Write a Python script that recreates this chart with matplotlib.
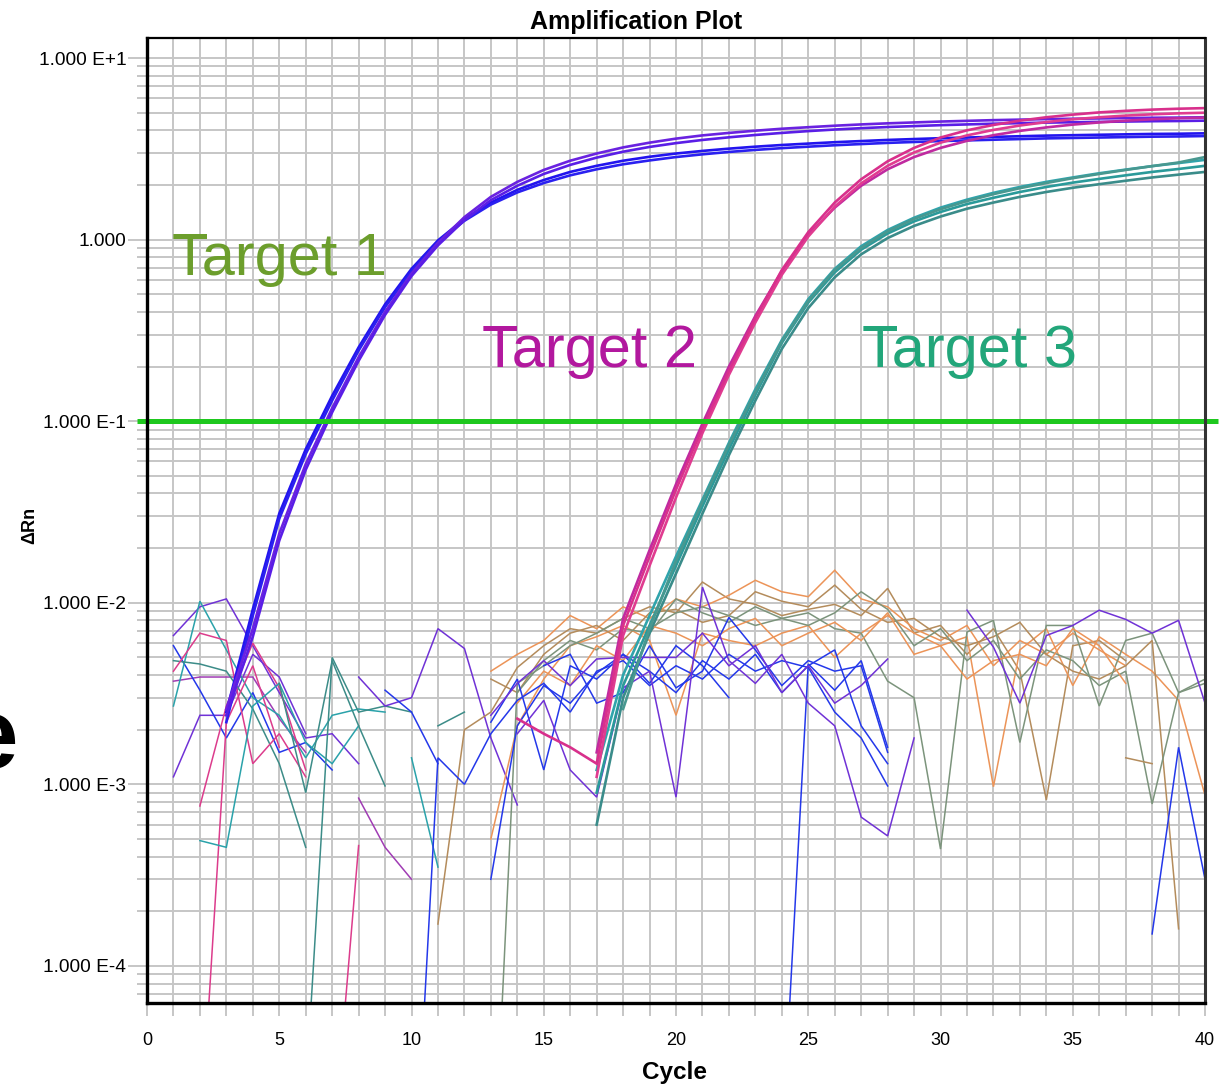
import matplotlib
matplotlib.use("Agg")
import matplotlib.pyplot as plt
from matplotlib.ticker import FixedLocator, FuncFormatter, LogLocator, NullFormatter

nan = float("nan")

# ---- amplification curves (delta Rn per cycle) ----
# Target 1, cycles 3..40
t1_a = [0.0026, 0.0072, 0.024, 0.058, 0.118, 0.225, 0.40, 0.65, 0.96, 1.33, 1.72, 2.08, 2.42,
        2.72, 2.98, 3.22, 3.42, 3.6, 3.75, 3.87, 3.98, 4.08, 4.16, 4.24, 4.31, 4.37, 4.42, 4.47,
        4.51, 4.55, 4.58, 4.61, 4.63, 4.65, 4.67, 4.69, 4.7, 4.72]
t1_b = [0.0024, 0.0065, 0.022, 0.054, 0.112, 0.215, 0.385, 0.63, 0.93, 1.28, 1.65, 1.98, 2.3,
        2.58, 2.83, 3.05, 3.24, 3.4, 3.54, 3.66, 3.77, 3.87, 3.96, 4.04, 4.11, 4.17, 4.22, 4.27,
        4.31, 4.35, 4.38, 4.41, 4.43, 4.45, 4.47, 4.49, 4.5, 4.52]
t1_c = [0.0025, 0.0092, 0.031, 0.07, 0.138, 0.255, 0.44, 0.69, 0.99, 1.3, 1.6, 1.88, 2.13,
        2.36, 2.55, 2.72, 2.86, 2.98, 3.08, 3.17, 3.25, 3.32, 3.38, 3.44, 3.49, 3.54, 3.58, 3.62,
        3.65, 3.68, 3.71, 3.74, 3.76, 3.78, 3.8, 3.82, 3.83, 3.85]
t1_d = [0.0022, 0.0085, 0.029, 0.066, 0.13, 0.245, 0.425, 0.67, 0.97, 1.27, 1.56, 1.82, 2.05,
        2.26, 2.44, 2.6, 2.73, 2.85, 2.95, 3.04, 3.12, 3.19, 3.25, 3.31, 3.36, 3.41, 3.45, 3.49,
        3.52, 3.55, 3.58, 3.61, 3.63, 3.65, 3.67, 3.69, 3.7, 3.72]

# Target 2, cycles 14..40 (a) and 17..40 (b, c)
t2_a = [0.0023, 0.0019, 0.0016, 0.0013, 0.0075, 0.018, 0.042, 0.092, 0.19, 0.37, 0.68, 1.1,
        1.6, 2.15, 2.7, 3.2, 3.65, 4.0, 4.28, 4.52, 4.72, 4.88, 5.02, 5.12, 5.2, 5.26, 5.3]
t2_b = [0.0011, 0.0066, 0.016, 0.038, 0.086, 0.18, 0.35, 0.64, 1.04, 1.52, 2.04, 2.55, 3.02,
        3.42, 3.75, 4.02, 4.25, 4.44, 4.6, 4.72, 4.82, 4.9, 4.96, 5.0]
t2_c = [0.0015, 0.0082, 0.0195, 0.045, 0.097, 0.2, 0.38, 0.67, 1.06, 1.5, 1.98, 2.44, 2.85,
        3.2, 3.5, 3.76, 3.97, 4.15, 4.3, 4.42, 4.52, 4.6, 4.66, 4.7]

# Target 3, cycles 17..40 (a, b, c) and 18..40 (d)
t3_a = [0.0009, 0.0035, 0.0075, 0.016, 0.034, 0.07, 0.14, 0.27, 0.45, 0.66, 0.88, 1.08, 1.26,
        1.42, 1.57, 1.7, 1.83, 1.95, 2.06, 2.16, 2.26, 2.36, 2.45, 2.55]
t3_b = [0.0012, 0.004, 0.0085, 0.018, 0.037, 0.076, 0.15, 0.28, 0.47, 0.69, 0.92, 1.13, 1.32,
        1.5, 1.66, 1.81, 1.95, 2.08, 2.2, 2.32, 2.43, 2.54, 2.64, 2.75]
t3_c = [0.0006, 0.003, 0.0068, 0.0145, 0.031, 0.065, 0.13, 0.25, 0.42, 0.62, 0.83, 1.02, 1.19,
        1.34, 1.48, 1.6, 1.72, 1.83, 1.93, 2.02, 2.11, 2.2, 2.28, 2.36]
t3_d = [0.0026, 0.0072, 0.017, 0.036, 0.074, 0.145, 0.275, 0.46, 0.68, 0.9, 1.11, 1.3, 1.47,
        1.63, 1.78, 1.92, 2.05, 2.18, 2.3, 2.42, 2.54, 2.66, 2.85]

# ---- baseline / no-template noise traces ----
n01 = [0.0066, 0.0095, 0.0105, 0.0058, 0.0032, 0.0018, 0.0019, 0.0013]
n02 = [0.0011, 0.0024, 0.0024, 0.0052, 0.0039, 0.0019]
n03 = [0.0037, 0.0039, 0.0039, 0.0039, 0.0023, 0.0015]
n04 = [0.0058, 0.0033, 0.0018, 0.0032, 0.0015, 0.0017, 0.0012]
n05 = [0.0027, 0.0102, 0.0055, 0.003, 0.0024, 0.0014, 0.0024, 0.0026, 0.0025]
n06 = [0.0048, 0.0046, 0.0042, 0.0026, 0.0013, 0.00045]
n07 = [0.0042, 0.0068, 0.0062, 0.0013, 0.0019, 0.0011]
n08 = [0.00076, 0.0027, 0.006, 0.0034, 0.0012]
n09 = [0.00001, 0.0022, 0.0045, 0.0016]
n10 = [0.00049, 0.00045, 0.0027, 0.0036, 0.0017, 0.0013, 0.0021]
n11 = [0.00002, 0.005, 0.0025, 0.0027, 0.0025]
n12 = [0.0036, 0.0009, 0.0048, 0.0021, 0.00098]
n13 = [0.0000085, 0.00046]
n14 = [0.00084, 0.00045, 0.0003]
n15 = [0.0039, 0.0027, 0.003, 0.0072, 0.0056, 0.0018, 0.00077]
n16 = [0.0014, 0.00035]
n17 = [0.0021, 0.0025]
n19 = [0.0033, 0.0025, 0.0013]

blue_1 = [0.000003, 0.0014, 0.001, 0.0019, 0.0029, 0.0036, 0.0025, 0.0042, 0.0048, 0.0035,
          0.0045, 0.0038, 0.0052, 0.0042, 0.0048, 0.0044, 0.0025, 0.0018, 0.00098]
blue_2 = [0.0022, 0.0038, 0.0012, 0.0045, 0.0038, 0.0052, 0.0042, 0.0032, 0.0048, 0.0038,
          0.0052, 0.0032, 0.0045, 0.0055, 0.0021, 0.0013]
blue_3 = [0.00001, 0.0046, 0.0033, 0.0048, 0.0016]
blue_4 = [0.0045, 0.0052, 0.0028, 0.0032, 0.0058, 0.0034, 0.0042, 0.0083, 0.0055, 0.0035,
          0.0048, 0.0042, 0.0045, 0.0015]
blue_5 = [0.0003, 0.0021, 0.0035, 0.0028, 0.0041, 0.0052, 0.0036, 0.0058, 0.0045, 0.003]
blue_6 = [0.00015, 0.0016, 0.0003]

purple_1 = [0.0024, 0.0036, 0.0048, 0.0035, 0.0049, 0.005, 0.005, 0.005, 0.0068, 0.0045,
            0.0058, 0.0032, 0.0045, 0.0028, 0.0035, 0.0049]
purple_2 = [0.0019, 0.0029, 0.0012, 0.00085, 0.0034, 0.0042, 0.00085, 0.0122, 0.0048, 0.0036,
            0.0052, 0.0028, 0.0021, 0.00066, 0.00052, 0.0018]
purple_3 = [0.0091, 0.0057, 0.0028, 0.0066, 0.0075, 0.0091, 0.0081, 0.0068, 0.008, 0.0028]

orange_a = [0.0042, 0.0052, 0.0062, 0.0085, 0.0072, 0.0095, 0.0082, 0.0105, 0.0095, 0.011,
            0.0133, 0.0115, 0.0108, 0.0151, 0.0105, 0.0095, 0.0072, 0.0062, 0.0075, 0.0045,
            0.0062, 0.0052, 0.0068, 0.0055, 0.0045]
orange_b = [0.0005, 0.0021, 0.0038, 0.0058, 0.0065, 0.0075, 0.0062, 0.0024, 0.0068, 0.0062,
            0.0058, 0.0068, 0.0075, 0.005, 0.0068, 0.0085, 0.0068, 0.0058, 0.0065, 0.00097,
            0.0055, 0.0072, 0.0035, 0.0065, 0.0052, 0.0042, 0.0029, 0.00087]
orange_c = [0.0028, 0.0042, 0.0035, 0.0058, 0.0048, 0.0075, 0.0068, 0.0058, 0.0072, 0.0082,
            0.0058, 0.0068, 0.0078, 0.0062, 0.0088, 0.0052, 0.0058, 0.0038, 0.0048, 0.0052,
            0.0045, 0.0072, 0.0058, 0.0036]
tan_a = [0.00017, 0.002, 0.0025, 0.0044, 0.0058, 0.0072, 0.0068, 0.0082, 0.0095, 0.0088,
         0.013, 0.0105, 0.0098, 0.0085, 0.0092, 0.0098, 0.0085, 0.012, 0.0068, 0.0075, 0.0052,
         0.0072, 0.0042, 0.00082, 0.0058, 0.0062, 0.0048]
tan_b = [0.0038, 0.0032, 0.0052, 0.0068, 0.0075, 0.0062, 0.0088, 0.0092, 0.0078, 0.0085,
         0.0115, 0.0102, 0.0095, 0.0125, 0.0092, 0.0078, 0.0082, 0.0065, 0.0058, 0.0065,
         0.0078, 0.0052, 0.0042, 0.0038, 0.0045, 0.0062, 0.00016]
tan_c = [0.0014, 0.0013]
gray_a = [0.000003, 0.0036, 0.0045, 0.0058, 0.0068, 0.0082, 0.0072, 0.0088, 0.0095, 0.0085,
          0.0075, 0.0082, 0.0088, 0.0072, 0.0068, 0.0037, 0.003, 0.00044, 0.0069, 0.008,
          0.0017, 0.0075, 0.0075, 0.0027, 0.0062, 0.0068, 0.0032, 0.0036]
gray_b = [0.0032, 0.0048, 0.0062, 0.0055, 0.0072, 0.0068, 0.0105, 0.0088, 0.0078, 0.0095,
          0.0082, 0.0075, 0.0088, 0.0115, 0.0092, 0.0058, 0.0072, 0.0048, 0.0062, 0.0038,
          0.0055, 0.0048, 0.0035, 0.0042, 0.00078, 0.0032, 0.0038]

threshold = 0.1
ytick_values = [1e-4, 1e-3, 1e-2, 1e-1, 1.0, 10.0]
ytick_labels = ["1.000 E-4", "1.000 E-3", "1.000 E-2", "1.000 E-1", "1.000", "1.000 E+1"]

PURPLE = "#7032d6"
BLUE = "#2438ea"
TEAL = "#2aa2aa"
DKTEAL = "#3c8c88"
MAGENTA = "#dc3c8c"
PLUM = "#a03cb4"
ORANGE = "#ec9458"
TAN = "#b48c5c"
GRAY = "#7c947c"

plt.rcParams["font.family"] = ["Liberation Sans", "DejaVu Sans"]

fig = plt.figure(figsize=(12.25, 10.85), dpi=100)
ax = fig.add_axes([0.1200, 0.0756, 0.8637, 0.8894])


def draw(vals, start, color, lw=1.1, z=2):
    xs = list(range(start, start + len(vals)))
    ax.plot(xs, vals, color=color, lw=lw, zorder=z, solid_joinstyle="miter")


noise = [
    (n01, 1, PURPLE), (n02, 1, PURPLE), (n03, 1, PLUM), (n04, 1, BLUE), (n05, 1, TEAL),
    (n06, 1, DKTEAL), (n07, 1, MAGENTA), (n08, 2, MAGENTA), (n09, 2, MAGENTA), (n10, 2, TEAL),
    (n11, 6, DKTEAL), (n12, 5, DKTEAL), (n13, 7, MAGENTA), (n14, 8, PLUM), (n15, 8, PURPLE),
    (n16, 10, TEAL), (n17, 11, DKTEAL), (n19, 9, BLUE),
    (tan_a, 11, TAN), (orange_a, 13, ORANGE), (orange_b, 13, ORANGE), (tan_b, 13, TAN),
    (gray_a, 13, GRAY), (gray_b, 14, GRAY), (orange_c, 14, ORANGE), (tan_c, 37, TAN),
    (blue_1, 10, BLUE), (blue_2, 13, BLUE), (blue_3, 24, BLUE), (blue_4, 15, BLUE),
    (blue_5, 13, BLUE), (blue_6, 38, BLUE),
    (purple_1, 13, PURPLE), (purple_2, 14, PURPLE), (purple_3, 31, PURPLE),
]
for vals, start, color in noise:
    draw(vals, start, color)

amp = [
    (t1_c, 3, "#2214ee"), (t1_d, 3, "#2a20f0"), (t1_a, 3, "#6a22e0"), (t1_b, 3, "#5a1ee6"),
    (t3_c, 17, "#3a8c8a"), (t3_a, 17, "#2a9a9a"), (t3_b, 17, "#30a4ac"), (t3_d, 18, "#489890"),
    (t2_c, 17, "#c02aa0"), (t2_b, 17, "#e03c90"), (t2_a, 14, "#d8308c"),
]
for vals, start, color in amp:
    draw(vals, start, color, lw=1.9, z=3)

ax.plot([-0.38, 40.5], [threshold, threshold], color="#1ec81e", lw=3.6, zorder=5,
        clip_on=False, solid_capstyle="butt")

ax.set_yscale("log")
ax.set_xlim(0, 40)
ax.set_ylim(6.25e-5, 12.9)

ax.xaxis.set_major_locator(FixedLocator(range(0, 41, 5)))
ax.xaxis.set_minor_locator(FixedLocator(range(0, 41)))
ax.yaxis.set_major_locator(FixedLocator(ytick_values))
ax.yaxis.set_major_formatter(FuncFormatter(lambda v, p: ytick_labels[ytick_values.index(v)]
                                           if v in ytick_values else ""))
ax.yaxis.set_minor_locator(LogLocator(base=10, subs=range(2, 10), numticks=20))
ax.yaxis.set_minor_formatter(NullFormatter())

ax.grid(which="both", color="#c6c6c6", lw=1.4, zorder=0)
ax.set_axisbelow(True)
ax.tick_params(axis="x", which="both", direction="out", color="#c6c6c6", width=1.4,
               length=9, pad=12, labelsize=13)
ax.tick_params(axis="y", which="major", direction="out", color="#c6c6c6", width=1.4,
               length=14, pad=1, labelsize=13.8)
ax.tick_params(axis="y", which="minor", direction="out", color="#c6c6c6", width=1.4,
               length=7)

for side, w, c in [("left", 2.4, "black"), ("bottom", 2.4, "black"),
                   ("top", 1.6, "black"), ("right", 2.2, "#333333")]:
    ax.spines[side].set_linewidth(w)
    ax.spines[side].set_color(c)
    ax.spines[side].set_zorder(6)

fig.text(0.519, 1 - 22 / 1085, "Amplification Plot", ha="center", va="center",
         fontsize=18, fontweight="bold")
fig.text(0.551, 1 - 1073 / 1085, "Cycle", ha="center", va="center",
         fontsize=17.5, fontweight="bold")
fig.text(30 / 1225, 1 - 525 / 1085, "ΔRn", ha="center", va="center", rotation=90,
         fontsize=13, fontweight="bold")

ax.text(0.95, 0.64, "Target 1", color="#6c9e2c", fontsize=42.8, zorder=7)
ax.text(12.67, 0.2, "Target 2", color="#b2189e", fontsize=42.8, zorder=7)
ax.text(27.03, 0.2, "Target 3", color="#22a67a", fontsize=42.8, zorder=7)

# cut-off letter from the slide this chart was taken from
fig.text(18 / 1225, 1 - 742 / 1085, "e", ha="right", va="center", fontsize=72,
         fontweight="bold", color="black")

fig.savefig("out.png", dpi=100, facecolor="white")
